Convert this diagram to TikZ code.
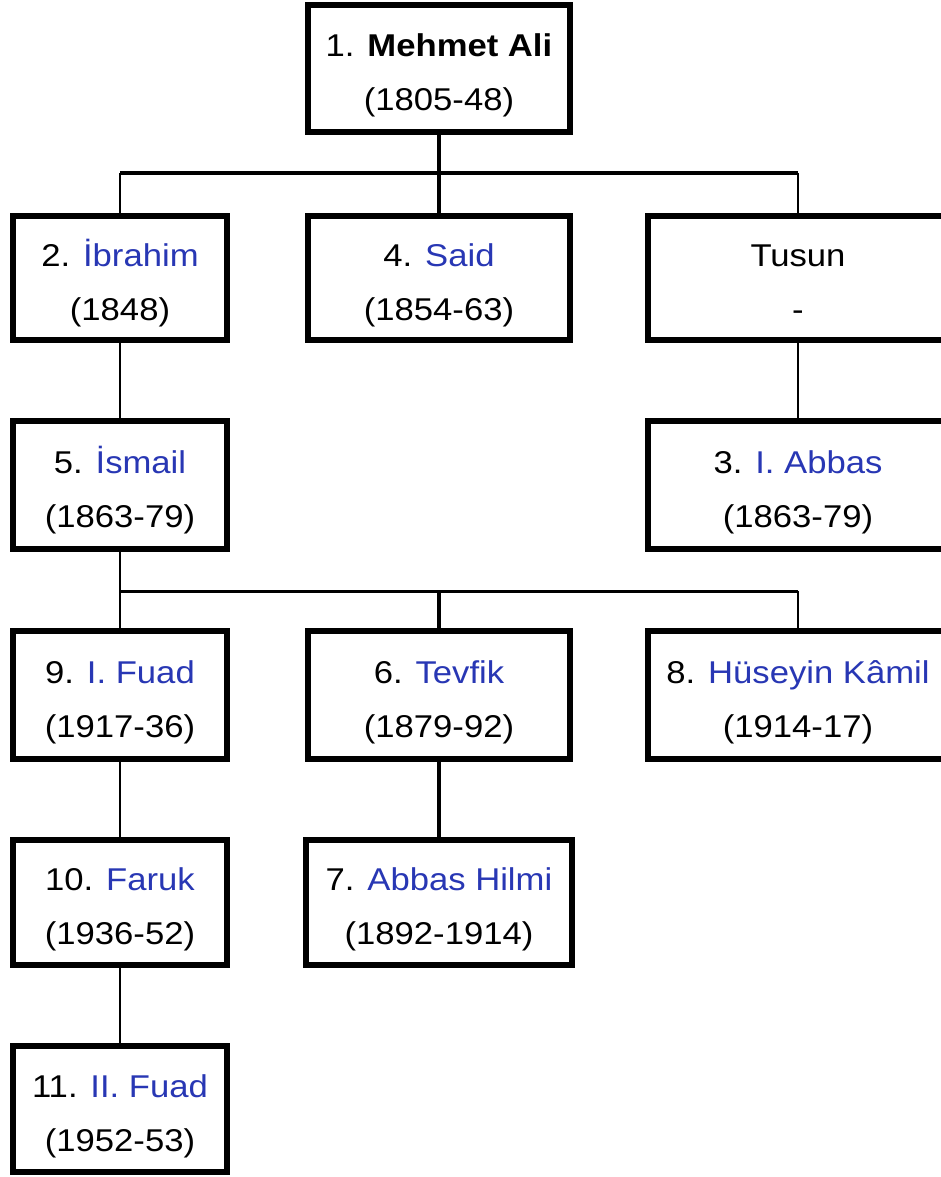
\documentclass[tikz,border=0pt]{standalone}
\usepackage{fontspec}
\setmainfont{Liberation Sans}[FakeStretch=1.1]
\usetikzlibrary{calc}
\definecolor{nm}{RGB}{40,55,180}
\tikzset{
  box/.style={draw=black, line width=6pt, fill=white, inner sep=0pt},
  txt/.style={anchor=base, inner sep=0pt, font=\fontsize{31.5}{54}\selectfont},
  thin/.style={draw=black, line width=2.5pt},
  mid/.style={draw=black, line width=4pt},
}
\newcommand{\famnode}[7]{%
  \node[box, minimum width=#4pt, minimum height=#5pt] (#1) at (#2,#3) {};
  \node[txt] (#1a) at ($(#1.center)+(0,-12)$) {#6};
  \node[txt] (#1b) at ($(#1.center)+(0,42)$) {#7};
}
\begin{document}
\begin{tikzpicture}[x=1pt,y=-1pt]
\useasboundingbox (0,0) rectangle (941,1177);
\clip (0,0) rectangle (941,1177);
\fill[white] (0,0) rectangle (941,1177);
% boxes
\famnode{b1}{439}{68.5}{262}{127}{1. \textbf{Mehmet Ali}}{(1805-48)}
\famnode{b2}{120}{278}{214}{124}{2. \textcolor{nm}{İbrahim}}{(1848)}
\famnode{b4}{439}{278}{262}{124}{4. \textcolor{nm}{Said}}{(1854-63)}
\famnode{tu}{798}{278}{300}{124}{Tusun}{-}
\famnode{b5}{120}{485}{214}{128}{5. \textcolor{nm}{İsmail}}{(1863-79)}
\famnode{b3}{798}{485}{300}{128}{3. \textcolor{nm}{I. Abbas}}{(1863-79)}
\famnode{b9}{120}{695}{214}{128}{9. \textcolor{nm}{I. Fuad}}{(1917-36)}
\famnode{b6}{439}{695}{262}{128}{6. \textcolor{nm}{Tevfik}}{(1879-92)}
\famnode{b8}{798}{695}{300}{128}{8. \textcolor{nm}{Hüseyin Kâmil}}{(1914-17)}
\famnode{b10}{120}{902.5}{214}{125}{10. \textcolor{nm}{Faruk}}{(1936-52)}
\famnode{b7}{439}{902.5}{266}{125}{7. \textcolor{nm}{Abbas Hilmi}}{(1892-1914)}
\famnode{b11}{120}{1109}{214}{126}{11. \textcolor{nm}{II. Fuad}}{(1952-53)}
% junction coordinates
\coordinate (j1) at (439,173);
\coordinate (j2) at (439,591);
% connectors
\draw[mid] (b1.south) -- (b4.north);
\draw[mid] (b2.north |- j1) -- (tu.north |- j1);
\draw[thin] (b2.north) -- (b2.north |- j1);
\draw[thin] (tu.north) -- (tu.north |- j1);
\draw[thin] (b2.south) -- (b5.north);
\draw[thin] (tu.south) -- (b3.north);
\draw[thin] (b5.south) -- (b9.north);
\draw[thin] (b9.south) -- (b10.north);
\draw[thin] (b10.south) -- (b11.north);
\draw[line width=3pt] (b5.south |- j2) -- (b8.north |- j2);
\draw[mid] (b6.north) -- (b6.north |- j2);
\draw[thin] (b8.north) -- (b8.north |- j2);
\draw[mid] (b6.south) -- (b7.north);
\end{tikzpicture}
\end{document}
